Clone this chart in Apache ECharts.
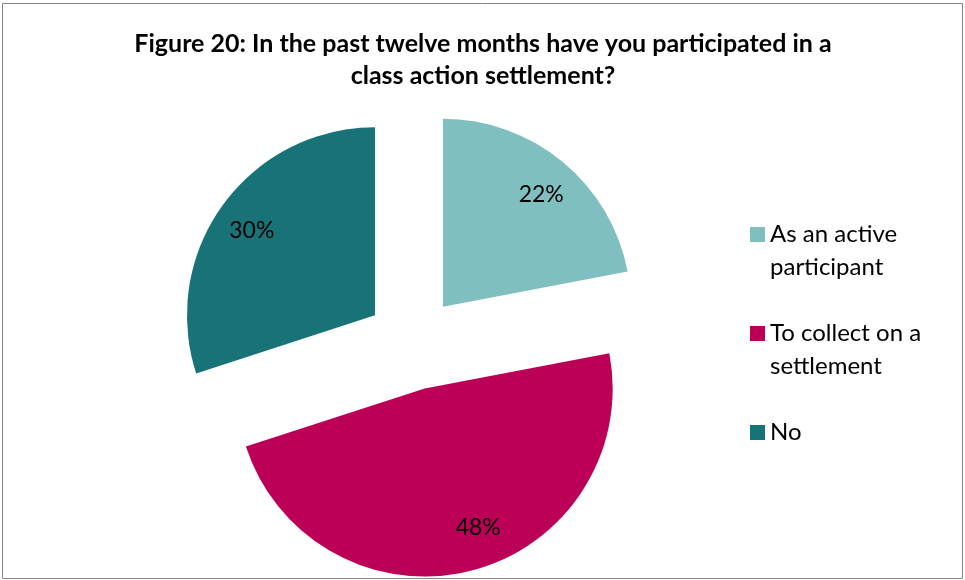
<!DOCTYPE html>
<html>
<head>
<meta charset="utf-8">
<script src="https://cdn.jsdelivr.net/npm/echarts@6/dist/echarts.min.js"></script>
<style>
  html, body { margin: 0; padding: 0; background: #fff; }
  #chart { width: 965px; height: 580px; }
</style>
</head>
<body>
<div id="chart"></div>
<script>
// Survey answers and their shares (percent)
const categories = ['As an active participant', 'To collect on a settlement', 'No'];
const shares = [22, 48, 30];
// Legend wording as it wraps in the key
const legendLines = {
  'As an active participant': ['As an active', 'participant'],
  'To collect on a settlement': ['To collect on a', 'settlement'],
  'No': ['No']
};
const sliceColors = ['#7fbfbf', '#bc0058', '#177378'];
const titleText = 'Figure 20: In the past twelve months have you participated in a\nclass action settlement?';

// Layout / styling
const FONT = 'Lato, "Open Sans", sans-serif';
const CENTER = [413, 343];
const RADIUS = 188;
const EXPLODE = 47;
// small nudges for the percentage labels, in slice order
const labelNudge = [[2, 4], [16, -7], [-1, 4]];

const sliceData = categories.map((name, i) => ({
  name: name,
  value: shares[i],
  selected: true,
  itemStyle: { color: sliceColors[i] }
}));

const labelData = categories.map((name, i) => ({
  name: name,
  value: shares[i],
  selected: true
}));

const chart = echarts.init(document.getElementById('chart'), null, { renderer: 'canvas' });

chart.setOption({
  animation: false,
  backgroundColor: '#ffffff',
  title: {
    text: titleText,
    left: 483,
    textAlign: 'center',
    top: 28,
    padding: 0,
    textStyle: {
      fontFamily: FONT,
      fontWeight: 'bold',
      fontSize: 25,
      lineHeight: 32,
      color: '#000000'
    }
  },
  legend: {
    orient: 'vertical',
    left: 750,
    top: 185,
    padding: 0,
    itemWidth: 15,
    itemHeight: 15,
    itemGap: 0,
    itemTextGap: 7,
    icon: 'rect',
    selectedMode: false,
    data: categories,
    formatter: function (name) {
      // pad so the marker lines up with the first text line
      const block = [''].concat(legendLines[name]);
      while (block.length < 3) block.push('');
      return block.join('\n');
    },
    textStyle: {
      fontFamily: FONT,
      fontSize: 24,
      lineHeight: 33,
      color: '#000000'
    }
  },
  series: [
    {
      type: 'pie',
      center: CENTER,
      radius: RADIUS,
      startAngle: 90,
      clockwise: true,
      selectedMode: 'multiple',
      selectedOffset: EXPLODE,
      silent: true,
      label: { show: false },
      labelLine: { show: false },
      emphasis: { disabled: true, scale: false },
      select: { itemStyle: { borderWidth: 0 } },
      data: sliceData
    },
    {
      // transparent twin pie that carries the percentage labels
      type: 'pie',
      center: CENTER,
      radius: [0, 296],
      startAngle: 90,
      clockwise: true,
      selectedMode: 'multiple',
      selectedOffset: EXPLODE,
      silent: true,
      legendHoverLink: false,
      z: 3,
      itemStyle: { color: 'rgba(0,0,0,0)' },
      emphasis: { disabled: true, scale: false },
      select: { itemStyle: { color: 'rgba(0,0,0,0)', borderWidth: 0 }, label: { color: '#000000' } },
      label: {
        show: true,
        position: 'inside',
        formatter: '{c}%',
        fontFamily: FONT,
        fontSize: 23,
        color: '#000000'
      },
      labelLayout: function (params) {
        const n = labelNudge[params.dataIndex];
        return { dx: n[0], dy: n[1] };
      },
      labelLine: { show: false },
      data: labelData
    }
  ],
  graphic: [
    {
      type: 'rect',
      silent: true,
      shape: { x: 2.5, y: 3.5, width: 960, height: 575 },
      style: { fill: 'none', stroke: '#868686', lineWidth: 1 }
    }
  ]
});
</script>
</body>
</html>
